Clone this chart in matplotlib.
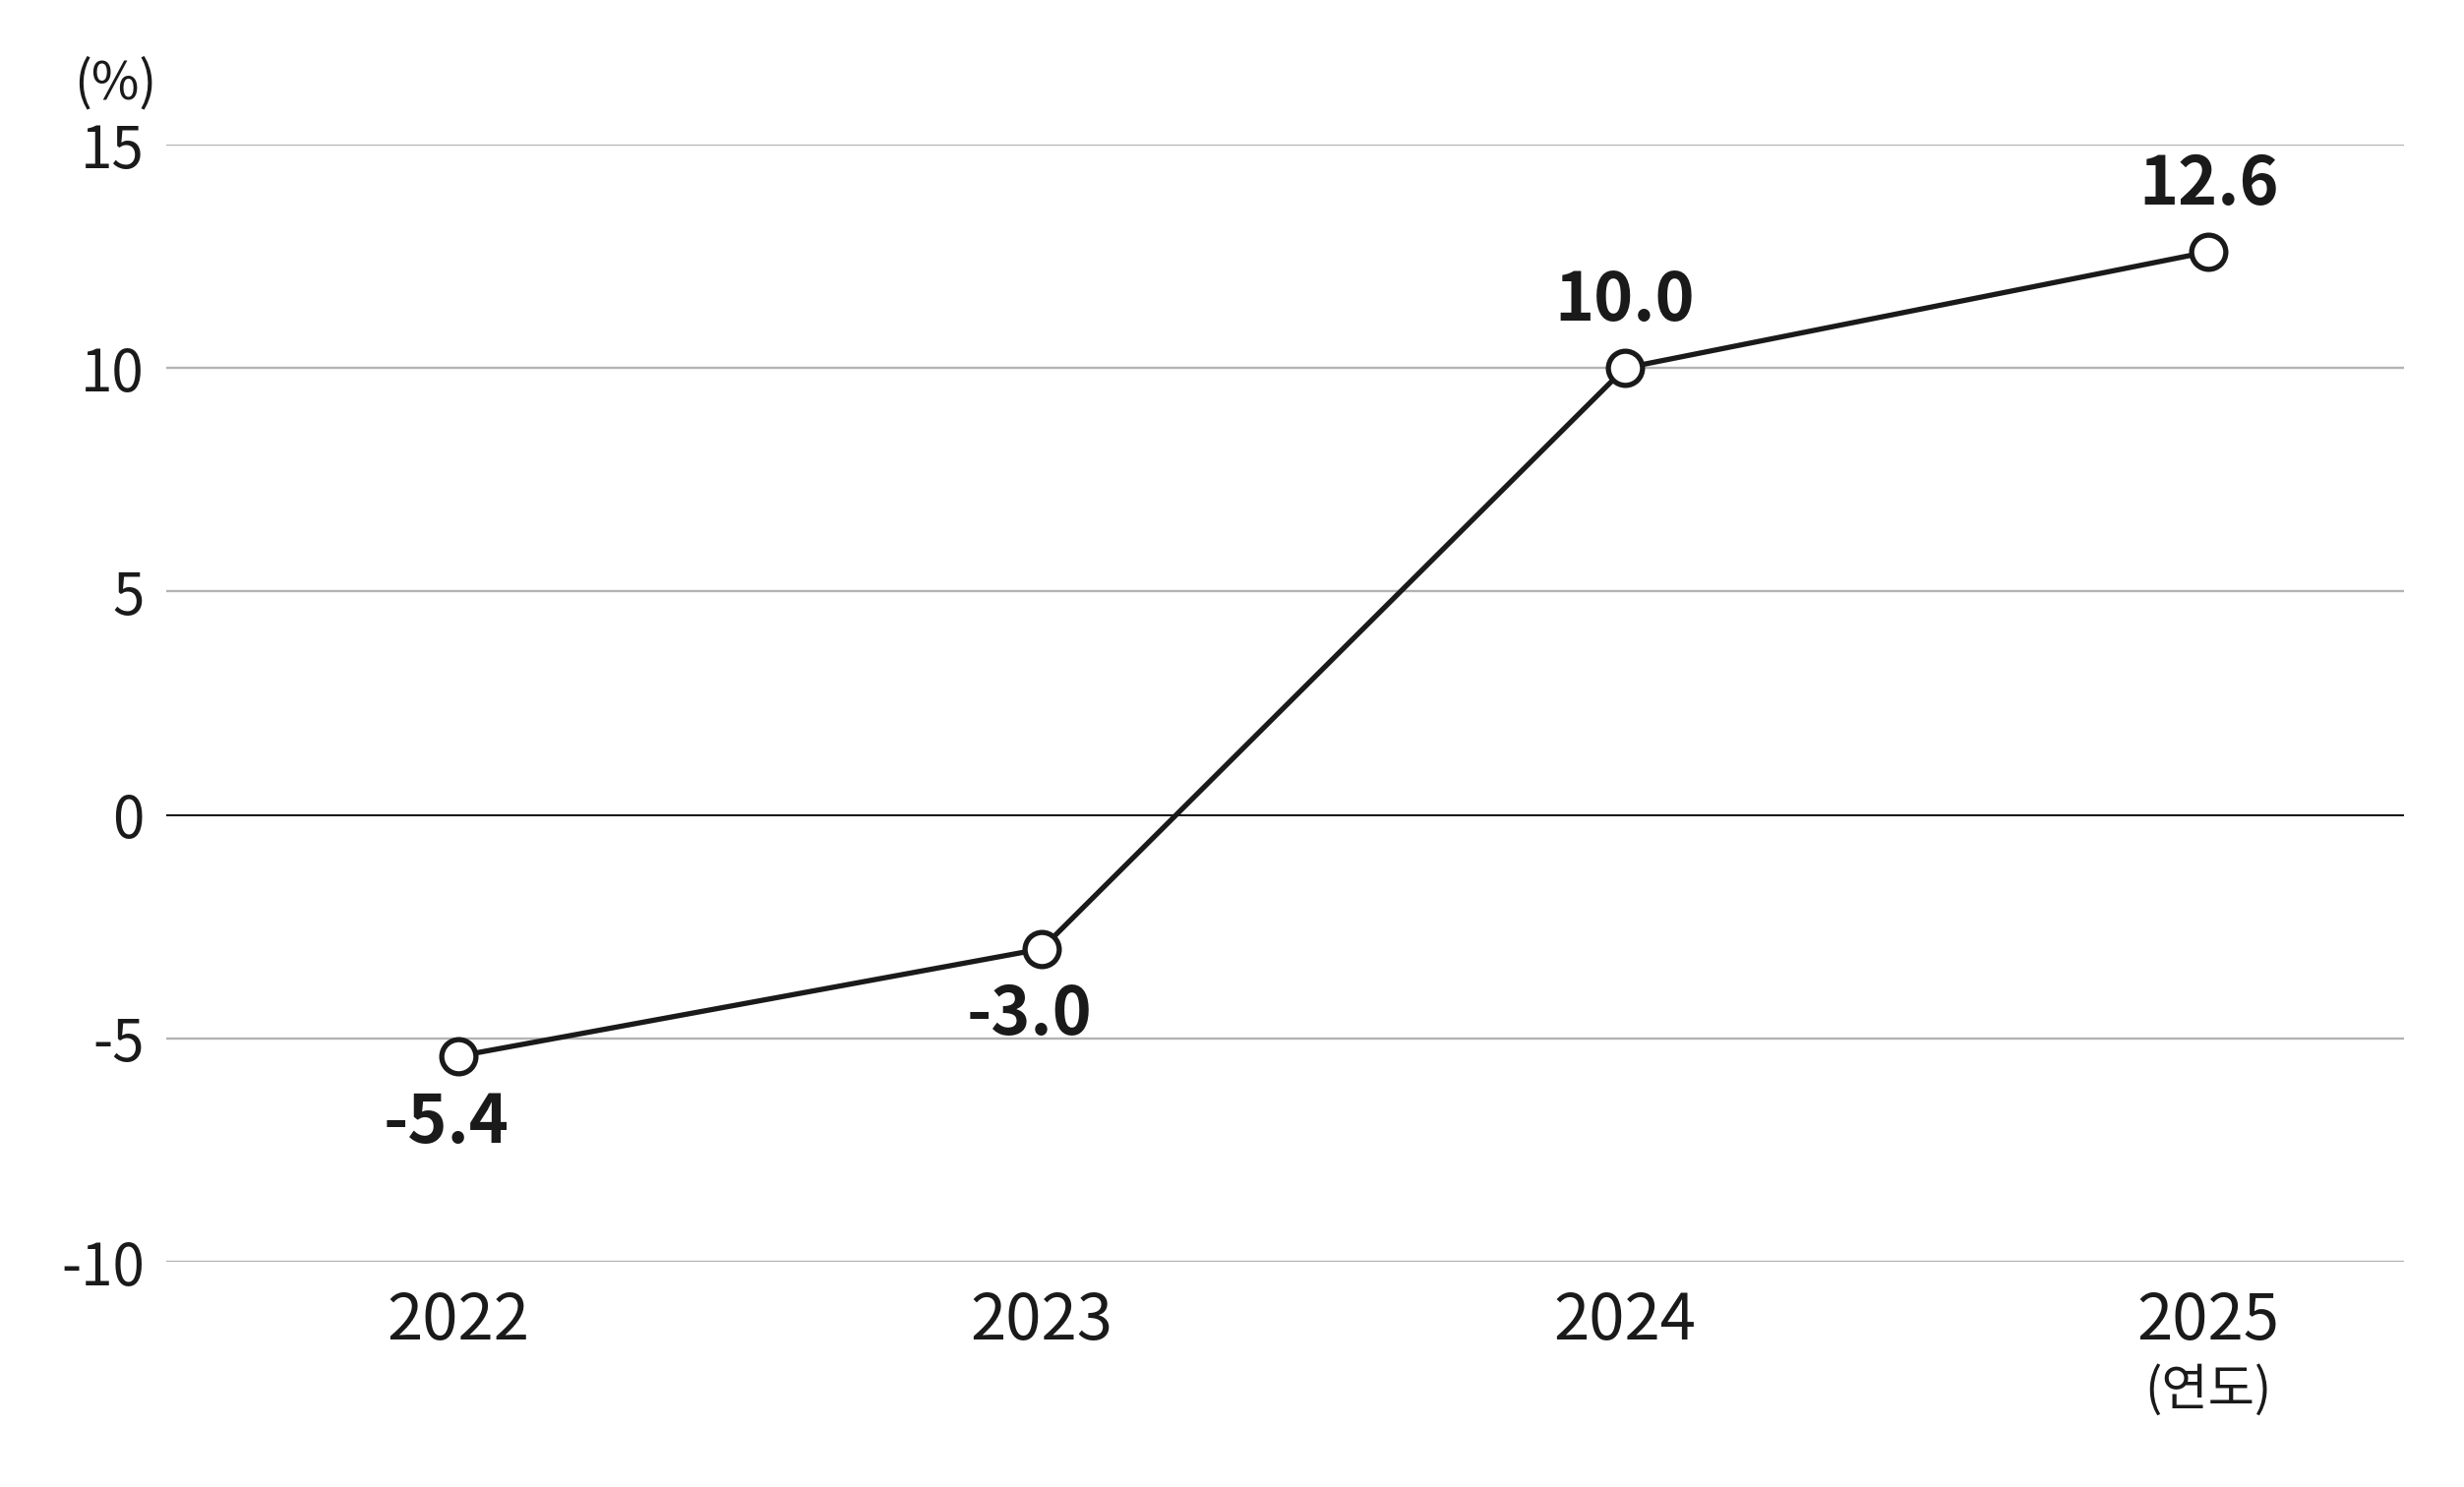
import numpy as np
import matplotlib.pyplot as plt

plt.rcParams['font.family'] = ['Noto Sans CJK KR', 'DejaVu Sans']

# data
years = ['2022', '2023', '2024', '2025']
growth = [-5.4, -3.0, 10.0, 12.6]
label_text = ['-5.4', '-3.0', '10.0', '12.6']
label_below = [True, True, False, False]
yticks = [-10, -5, 0, 5, 10, 15]

ink = '#1a1a1a'
grid_gray = '#b3b3b3'

fig = plt.figure(figsize=(25.05, 15.12), dpi=100)
ax = fig.add_axes([169/2505, 1 - 1283/1512, (2444 - 169)/2505, (1283 - 147)/1512])

x = np.arange(len(years))

# grid lines
for v in yticks:
    if v == 0:
        ax.axhline(v, color=ink, lw=1.5, zorder=2)
    else:
        ax.axhline(v, color=grid_gray, lw=1.7, zorder=1)

ax.plot(x, growth, color=ink, lw=3.8, marker='o', ms=25, mfc='white',
        mec=ink, mew=3.8, zorder=3, solid_capstyle='round')

for xi, yi, txt, below in zip(x, growth, label_text, label_below):
    if below:
        ax.annotate(txt, (xi, yi), xytext=(-9, -49), textcoords='offset points',
                    ha='center', va='center', fontsize=49, fontweight='bold', color=ink)
    else:
        ax.annotate(txt, (xi, yi), xytext=(0, 49), textcoords='offset points',
                    ha='center', va='center', fontsize=49, fontweight='bold', color=ink)

ax.set_xlim(-0.5, 3.335)
ax.set_ylim(-10, 15)
ax.set_yticks(yticks)
ax.set_yticklabels([str(v) for v in yticks])
ax.set_xticks(x)
ax.set_xticklabels(years)
ax.tick_params(axis='y', length=0, pad=16, labelsize=42, labelcolor=ink)
ax.tick_params(axis='x', length=0, pad=20, labelsize=47, labelcolor=ink)
for lab in ax.get_yticklabels() + ax.get_xticklabels():
    lab.set_fontweight('light')

for s in ax.spines.values():
    s.set_visible(False)

fig.text(117/2505, 1 - 85/1512, '(%)', ha='center', va='center',
         fontsize=38, color=ink, fontweight='light')
ax.annotate('(연도)', (3, -10), xytext=(0, -94), textcoords='offset points',
            ha='center', va='center', fontsize=37, color=ink, fontweight='light',
            annotation_clip=False)

fig.savefig('out.png', dpi=100, facecolor='white')
